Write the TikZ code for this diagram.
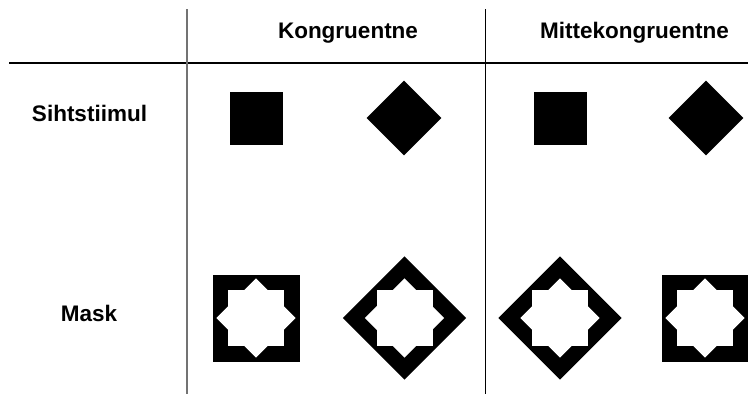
\documentclass[tikz,border=0pt]{standalone}
\usepackage{fontspec}
\setmainfont{Liberation Sans}
\usetikzlibrary{positioning}
\tikzset{label/.style={font=\fontsize{22.5}{27}\selectfont\bfseries,inner sep=0,anchor=base},
  target/.style={fill=black,inner sep=0,minimum size=53},
  maskbox/.style={fill=black,inner sep=0,minimum size=87},
  starsq/.style={fill=white,inner sep=0,minimum size=56}
}

\begin{document}
\begin{tikzpicture}[x=1pt,y=-1pt]
  \useasboundingbox (0,0) rectangle (748,394);

  % Table rules
    \draw[line width=2pt] (9,63) -- (748,63);
    \draw[line width=1.2pt,black!55] (187,9) -- (187,394);
    \draw[line width=0.8pt] (485,9) -- (485,394);

  % Headers
    \node[label] (h1) at (348,38.3) {Kongruentne};
    \node[label] (h2) at (634.5,38.3) {Mittekongruentne};

  % Row labels
    \node[label] (r1) at (89.5,121) {Sihtstiimul};
    \node[label] (r2) at (89,321.7) {Mask};

  % Target stimuli
    \node[target] (s1) at (256,118) {};
    \node[target, rotate=45] (s2) at (404,118) {};
    \node[target] (s3) at (560,118) {};
    \node[target, rotate=45] (s4) at (706,118) {};

  % Masks
    \node[maskbox] (k1) at (256,318) {};
    \node[maskbox, rotate=45] (k2) at (404.5,318) {};
    \node[maskbox, rotate=45] (k3) at (560,318) {};
    \node[maskbox] (k4) at (705,318) {};

  % Stars cut out of the masks
    \node[starsq] (k1a) at (k1) {};
    \node[starsq, rotate=45] (k1b) at (k1) {};
    \node[starsq] (k2a) at (k2) {};
    \node[starsq, rotate=45] (k2b) at (k2) {};
    \node[starsq] (k3a) at (k3) {};
    \node[starsq, rotate=45] (k3b) at (k3) {};
    \node[starsq] (k4a) at (k4) {};
    \node[starsq, rotate=45] (k4b) at (k4) {};

\end{tikzpicture}
\end{document}
